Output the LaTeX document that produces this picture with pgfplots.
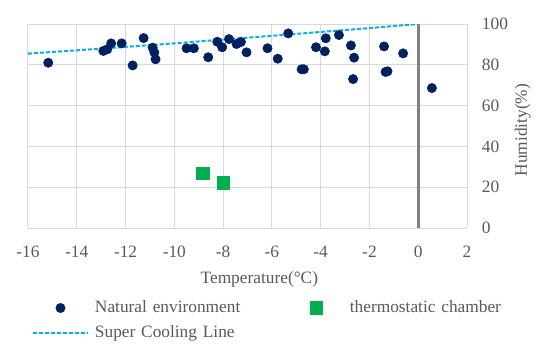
\documentclass[border=0pt]{standalone}
\usepackage{fontspec}
\setmainfont{Liberation Serif}
\usepackage{pgfplots}
\pgfplotsset{compat=1.18}
\definecolor{navy}{HTML}{002060}
\definecolor{grn}{HTML}{00B050}
\definecolor{cyanl}{HTML}{00B0F0}
\definecolor{gridc}{HTML}{D9D9D9}
\definecolor{txt}{HTML}{595959}
\definecolor{zline}{HTML}{808080}
\begin{document}
\begin{tikzpicture}
\begin{axis}[
  scale only axis, width=329.25pt, height=153pt,
  xmin=-16, xmax=2, ymin=0, ymax=100,
  xtick={-16,-14,...,2}, ytick={0,20,...,100},
  grid=major, major grid style={gridc, line width=0.75pt},
  axis line style={draw=none},
  major tick length=0pt,
  yticklabel pos=right,
  font=\fontsize{13}{15.6}\selectfont,
  ticklabel style={font=\fontsize{13}{15.6}\selectfont, text=txt},
  /pgf/number format/assume math mode=true,
  xticklabel style={yshift=-9.9pt},
  yticklabel style={xshift=7.7pt},
  xlabel={Temperature(°C)}, ylabel={Humidity(\%)},
  xlabel style={at={(axis description cs:0.527,0)}, anchor=center, yshift=-38.25pt, text=txt},
  ylabel style={at={(axis description cs:1,0.48)}, anchor=center, yshift=-41.8pt, text=txt},
  legend image code/.code={\path (0pt,-1pt) (41.25pt,1pt);\draw[mark repeat=2,mark phase=2,#1] plot coordinates {(0pt,0pt)(20.625pt,0pt)(41.25pt,0pt)};},
  legend columns=2,
  legend style={at={(axis description cs:0,0)}, anchor=north west, xshift=3pt, yshift=-54pt,
    draw=none, fill=none, inner sep=0pt, outer sep=0pt, row sep=7.1pt,
    /tikz/every odd column/.append style={column sep=4.5pt},
    /tikz/every even column/.append style={column sep=0pt},
    nodes={inner sep=0pt, text width=145pt, align=left, text height=9pt, text depth=3pt, text=txt,
      font=\fontsize{13}{15.6}\selectfont}},
]
\addplot[zline, line width=2pt, forget plot] coordinates {(0,0) (0,100)};
\addplot[cyanl, line width=1.5pt, dash pattern=on 3pt off 1.5pt, forget plot] coordinates {
(-16,85.5) (-14,87.1) (-12,88.8) (-10,90.5) (-8,92.4) (-6,94.2) (-4,96.1) (-2,98.0) (0,100)};
\addplot[only marks, mark=*, mark size=3.5pt, mark options={fill=navy, draw=navy}] coordinates {
(-15.17,81.0) (-12.91,86.8) (-12.75,87.6) (-12.59,90.5) (-12.16,90.5) (-11.71,79.7)
(-11.26,93.1) (-10.89,88.4) (-10.82,86.1) (-10.77,82.7) (-9.50,88.1) (-9.20,88.1)
(-8.61,83.7) (-8.24,91.3) (-8.04,88.6) (-7.76,92.6) (-7.45,90.2) (-7.27,91.2)
(-7.04,86.1) (-6.18,88.1) (-5.76,83.0) (-5.33,95.4) (-4.78,77.8) (-4.69,77.8)
(-4.19,88.6) (-3.83,86.6) (-3.79,93.0) (-3.25,94.6) (-2.76,89.5) (-2.63,83.5)
(-2.67,73.0) (-1.40,89.0) (-1.34,76.5) (-1.26,76.8) (-0.62,85.6) (0.56,68.6)};
\addlegendentry{Natural environment}
\addplot[only marks, mark=square*, mark size=4.7pt, mark options={fill=grn, draw=grn}] coordinates {
(-8.84,26.8) (-7.99,22.2)};
\addlegendentry{thermostatic chamber}
\addlegendimage{cyanl, line width=1.5pt, dash pattern=on 3pt off 1.5pt}
\addlegendentry{Super Cooling Line}
\end{axis}
\pgfresetboundingbox
\path[use as bounding box] (-21pt,-92.25pt) rectangle (390.75pt,171pt);
\end{tikzpicture}
\end{document}
